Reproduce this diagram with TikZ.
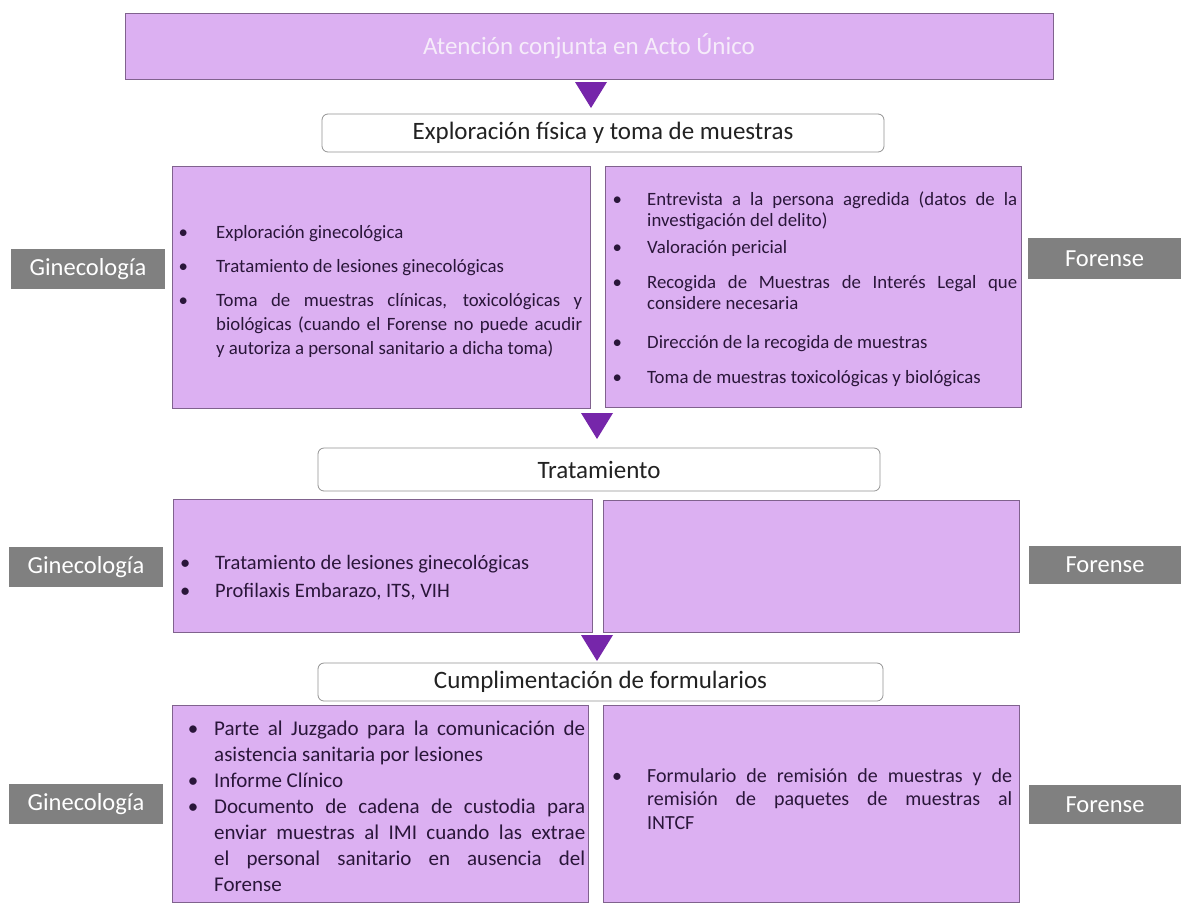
\documentclass[tikz,border=0pt]{standalone}
\usepackage{fontspec}
\setmainfont{Carlito}
\usetikzlibrary{calc}
\definecolor{lav}{RGB}{220,176,242}
\definecolor{lavline}{RGB}{128,98,142}
\definecolor{trifill}{RGB}{118,38,170}
\definecolor{graylab}{RGB}{128,128,128}
\definecolor{bodytxt}{RGB}{42,22,58}
\definecolor{hdrtxt}{RGB}{34,34,34}
\definecolor{titletxt}{RGB}{246,236,250}
\newlength\bh
\newcommand\bitem[2][0pt]{\par\vspace{#1}\hangindent=\bh\hangafter=1\noindent\hbox to\bh{\strut\hbox to 0pt{\hss\textbullet\hss}\hfil}#2\par}
\tikzset{
  titlebox/.style={draw=lavline, line width=0.6pt, fill=lav, inner sep=0pt, text=titletxt, font=\fontsize{25}{30}\selectfont},
  panel/.style={draw=lavline, line width=0.8pt, fill=lav, inner sep=0pt},
  graylabel/.style={fill=graylab, inner sep=0pt, text=white, font=\fontsize{24.5}{28}\selectfont},
  header/.style={draw=gray!85, line width=0.8pt, rounded corners=6pt, fill=white, inner sep=0pt, text=hdrtxt, font=\fontsize{25}{30}\selectfont},
  bodytext/.style={anchor=north west, inner sep=0pt, text=bodytxt, align=justify},
  tri/.style={fill=trifill},
}
\begin{document}
\begin{tikzpicture}[x=1pt,y=-1pt]
\useasboundingbox (0,0) rectangle (1181,903);
\fill[white] (0,0) rectangle (1181,903);

% title
\node[titlebox, minimum width=928pt, minimum height=66pt] (top) at (589,46) {Atención conjunta en Acto Único};

% headers
\node[header, minimum width=562pt, minimum height=38pt] (h1) at (603,133) {Exploración física y toma de muestras};
\node[header, minimum width=562pt, minimum height=43pt] (h2) at (599,469.5) {Tratamiento};
\node[header, minimum width=565pt, minimum height=38pt] (h3) at (600.5,682) {Cumplimentación de formularios};

% panels
\node[panel, minimum width=418pt, minimum height=242pt] (p1l) at (381,287) {};
\node[panel, minimum width=416pt, minimum height=241pt] (p1r) at (813,286.5) {};
\node[panel, minimum width=419pt, minimum height=133pt] (p2l) at (382.5,565.5) {};
\node[panel, minimum width=416pt, minimum height=132pt] (p2r) at (811,566) {};
\node[panel, minimum width=416pt, minimum height=197pt] (p3l) at (380,803.5) {};
\node[panel, minimum width=416pt, minimum height=197pt] (p3r) at (811,803.5) {};

% gray labels
\node[graylabel, minimum width=154pt, minimum height=40pt] (g1) at (88,269) {Ginecología};
\node[graylabel, minimum width=153pt, minimum height=41pt] (f1) at (1104.5,258.5) {Forense};
\node[graylabel, minimum width=154pt, minimum height=40pt] (g2) at (86,567) {Ginecología};
\node[graylabel, minimum width=152pt, minimum height=38pt] (f2) at (1105,565) {Forense};
\node[graylabel, minimum width=154pt, minimum height=40pt] (g3) at (86,804) {Ginecología};
\node[graylabel, minimum width=152pt, minimum height=39pt] (f3) at (1105,804.5) {Forense};

% triangles (connectors)
\coordinate (a1) at (591,82);
\coordinate (a2) at (597,413);
\coordinate (a3) at (597,635);
\fill[tri] (a1) ++(-16,0) -- ++(32,0) -- ++(-16,26) -- cycle;
\fill[tri] (a2) ++(-16,0) -- ++(32,0) -- ++(-16,26) -- cycle;
\fill[tri] (a3) ++(-16,0) -- ++(32,0) -- ++(-16,26) -- cycle;

% panel texts
\node[bodytext, text width=399pt, font=\fontsize{18.8}{24}\selectfont] (x1l) at (183,214.2) {%
\parskip=0pt\tolerance=10000\hyphenpenalty=10000\parfillskip=0pt plus 1fil\setlength\bh{33pt}%
\bitem{Exploración ginecológica}%
\bitem[10pt]{Tratamiento de lesiones ginecológicas}%
\bitem[10pt]{Toma de muestras clínicas, toxicológicas y\linebreak biológicas (cuando el Forense no puede acudir\linebreak y autoriza a personal sanitario a dicha toma)}};

\node[bodytext, text width=400pt, font=\fontsize{18.8}{21}\selectfont] (x1r) at (617,184.3) {%
\parskip=0pt\tolerance=10000\hyphenpenalty=10000\parfillskip=0pt plus 1fil\setlength\bh{30pt}%
\bitem{Entrevista a la persona agredida (datos de la\linebreak investigación del delito)}%
\bitem[6pt]{Valoración pericial}%
\bitem[14pt]{Recogida de Muestras de Interés Legal que\linebreak considere necesaria}%
\bitem[18pt]{Dirección de la recogida de muestras}%
\bitem[14pt]{Toma de muestras toxicológicas y biológicas}};

\node[bodytext, text width=400pt, font=\fontsize{20.5}{25}\selectfont] (x2l) at (185,544.5) {%
\parskip=0pt\tolerance=10000\hyphenpenalty=10000\parfillskip=0pt plus 1fil\setlength\bh{30pt}%
\bitem{Tratamiento de lesiones ginecológicas}%
\bitem[3pt]{Profilaxis Embarazo, ITS, VIH}};

\node[bodytext, text width=392pt, font=\fontsize{21}{26}\selectfont] (x3l) at (193,708.8) {%
\parskip=0pt\tolerance=10000\hyphenpenalty=10000\parfillskip=0pt plus 1fil\setlength\bh{21pt}%
\bitem{Parte al Juzgado para la comunicación de\linebreak asistencia sanitaria por lesiones}%
\bitem{Informe Clínico}%
\bitem{Documento de cadena de custodia para\linebreak enviar muestras al IMI cuando las extrae\linebreak el personal sanitario en ausencia del\linebreak Forense}};

\node[bodytext, text width=395pt, font=\fontsize{20}{23.5}\selectfont] (x3r) at (617,758.5) {%
\parskip=0pt\tolerance=10000\hyphenpenalty=10000\parfillskip=0pt plus 1fil\setlength\bh{30pt}%
\bitem{Formulario de remisión de muestras y de\linebreak remisión de paquetes de muestras al\linebreak INTCF}};
\end{tikzpicture}
\end{document}
